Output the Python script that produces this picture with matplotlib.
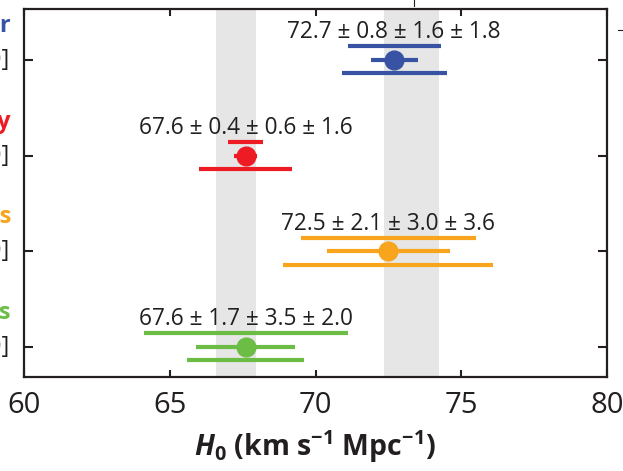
import matplotlib
matplotlib.use("Agg")
import matplotlib.pyplot as plt
from matplotlib.lines import Line2D

# data
methods = ["Distance ladder", "CMB + BAO cosmology", "Gravitational lenses", "Galaxy clusters"]
refs = ["[this work, 2020]", "[this work, 2020]", "[this work, 2020]", "[this work, 2020]"]
colors = ["#3953a4", "#ed1c24", "#f8a51d", "#6cbd45"]
ypos = [4, 3, 2, 1]
h0 = [72.7, 67.6, 72.5, 67.6]
err_a = [0.8, 0.4, 2.1, 1.7]   # middle bar
err_b = [1.6, 0.6, 3.0, 3.5]   # upper bar
err_c = [1.8, 1.6, 3.6, 2.0]   # lower bar
bands = [(66.6, 67.95), (72.35, 74.25)]
xticks = [60, 65, 70, 75, 80]

plt.rcParams["font.family"] = ["Open Sans", "DejaVu Sans"]
plt.rcParams["mathtext.fontset"] = "custom"
plt.rcParams["mathtext.rm"] = "Open Sans:bold"
plt.rcParams["mathtext.bf"] = "Open Sans:bold"
plt.rcParams["mathtext.it"] = "Open Sans:italic:bold"
plt.rcParams["mathtext.bfit"] = "Open Sans:italic:bold"
txt = "#231f20"

fig = plt.figure(figsize=(6.23, 4.71), dpi=100)
ax = fig.add_axes([24 / 623, 1 - 377 / 471, 583 / 623, 368 / 471])

for lo, hi in bands:
    ax.axvspan(lo, hi, color="#e6e6e6", lw=0, zorder=0)

off = 0.141
for i in range(len(h0)):
    c, y, col = h0[i], ypos[i], colors[i]
    ax.hlines(y + off, c - err_b[i], c + err_b[i], color=col, lw=3, zorder=2)
    ax.hlines(y, c - err_a[i], c + err_a[i], color=col, lw=3, zorder=2)
    ax.hlines(y - off, c - err_c[i], c + err_c[i], color=col, lw=3, zorder=2)
    ax.plot(c, y, "o", color=col, ms=13.5, zorder=3)
    label = "%.1f \u00b1 %.1f \u00b1 %.1f \u00b1 %.1f" % (c, err_a[i], err_b[i], err_c[i])
    ax.text(c, y + 0.29, label, ha="center", va="center", fontsize=16.3, color=txt)
    # cut-off row labels on the left
    ax.text(-0.0225, y + 0.355, methods[i], transform=ax.get_yaxis_transform(),
            ha="right", va="center", fontsize=17, fontweight="bold", color=col, clip_on=False)
    ax.text(-0.026, y, refs[i], transform=ax.get_yaxis_transform(),
            ha="right", va="center", fontsize=17, color=txt, clip_on=False)

ax.set_xlim(60, 80)
ax.set_ylim(0.686, 4.533)
ax.set_xticks(xticks)
ax.set_yticks(ypos)
ax.set_yticklabels([])
ax.tick_params(axis="x", direction="in", top=True, length=5, width=1.5, color=txt,
               labelsize=21, labelcolor=txt, pad=10)
ax.tick_params(axis="y", direction="in", right=True, length=6.5, width=1.5, color=txt)
for sp in ax.spines.values():
    sp.set_linewidth(1.6)
    sp.set_color(txt)

ax.set_xlabel(r"$\mathbfit{H}_\mathbf{0}$ (km s$^{\mathbf{-1}}$ Mpc$^{\mathbf{-1}}$)",
              fontsize=20.5, fontweight="bold", color=txt, labelpad=6)

# bits of neighbouring panels at the crop edges
fig.add_artist(Line2D([414 / 623, 414 / 623], [1, 1 - 6 / 471], color=txt, lw=0.8))
fig.add_artist(Line2D([618 / 623, 1], [1 - 30 / 471, 1 - 30 / 471], color=txt, lw=0.8))

fig.savefig("out.png", dpi=100)
